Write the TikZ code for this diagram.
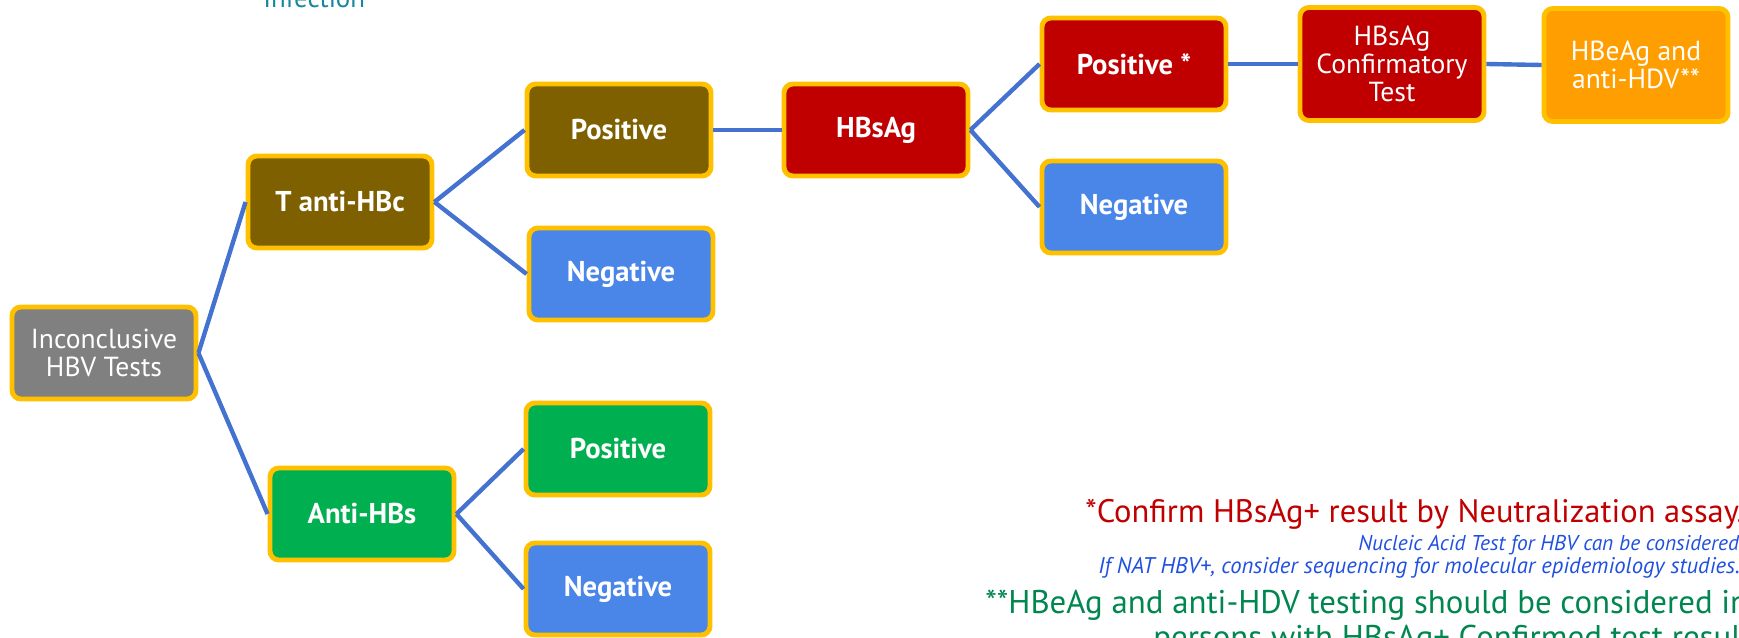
\documentclass[tikz,border=0pt]{standalone}
\usepackage{fontspec}
\setmainfont{PT Sans}
\usetikzlibrary{positioning}
\definecolor{gold}{HTML}{FFC000}
\definecolor{brownbox}{HTML}{7F6000}
\definecolor{bluebox}{HTML}{4A86E8}
\definecolor{redbox}{HTML}{C00000}
\definecolor{greenbox}{HTML}{00B050}
\definecolor{greybox}{HTML}{808080}
\definecolor{orangebox}{HTML}{FF9E00}
\definecolor{linkblue}{HTML}{4472D0}
\definecolor{noteblue}{HTML}{2050E0}
\definecolor{notegreen}{HTML}{00864E}
\definecolor{teal}{HTML}{17869E}

\begin{document}
\begin{tikzpicture}[
  x=0.02cm, y=-0.02cm,
  box/.style={draw=gold, line width=2.8pt, rounded corners=5pt, text=white,
    minimum width=3.68cm, minimum height=1.84cm, align=center,
    font=\fontsize{15.7}{16}\selectfont},
  bbox/.style={box, font=\fontsize{16.3}{16}\selectfont\bfseries},
  tall/.style={minimum height=2.26cm},
  link/.style={draw=linkblue, line width=2.5pt},
  note/.style={anchor=base west, inner sep=0pt}]
\clip (0,0) rectangle (1739,638);

\node[note, text=teal, font=\fontsize{15.3}{16}\selectfont] (infection) at (263,8) {Infection};

\node[box, fill=greybox] (inconclusive) at (104,353) {Inconclusive\\HBV Tests};
\node[bbox, fill=brownbox] (antiHBc) at (340,202) {T anti-HBc};
\node[bbox, fill=brownbox] (HBcPos) at (619,130) {Positive};
\node[bbox, fill=bluebox] (HBcNeg) at (621,274) {Negative};
\node[bbox, fill=redbox] (HBsAg) at (876,130) {HBsAg};
\node[bbox, fill=redbox] (HBsAgPos) at (1134,64) {Positive *};
\node[bbox, fill=bluebox] (HBsAgNeg) at (1134,207) {Negative};
\node[box, tall, fill=redbox] (confirm) at (1392,64) {HBsAg\\Confirmatory\\Test};
\node[box, tall, fill=orangebox] (HBeAg) at (1636,65) {HBeAg and\\anti-HDV**};
\node[bbox, fill=greenbox] (antiHBs) at (362,514) {Anti-HBs};
\node[bbox, fill=greenbox] (HBsPos) at (618,449) {Positive};
\node[bbox, fill=bluebox] (HBsNeg) at (618,589) {Negative};

\draw[link] (inconclusive.east) -- (antiHBc.west);
\draw[link] (inconclusive.east) -- (antiHBs.west);
\draw[link] (antiHBc.east) -- (HBcPos.west);
\draw[link] (antiHBc.east) -- (HBcNeg.west);
\draw[link] (HBcPos.east) -- (HBsAg.west);
\draw[link] (HBsAg.east) -- (HBsAgPos.west);
\draw[link] (HBsAg.east) -- (HBsAgNeg.west);
\draw[link] (HBsAgPos.east) -- (confirm.west);
\draw[link] (confirm.east) -- (HBeAg.west);
\draw[link] (antiHBs.east) -- (HBsPos.west);
\draw[link] (antiHBs.east) -- (HBsNeg.west);

% footnotes
\node[note, text=redbox, font=\fontsize{18.5}{20}\selectfont] (noteA) at (1085,523) {*Confirm HBsAg+ result by Neutralization assay.};
\node[note, text=noteblue, font=\fontsize{12.2}{13}\selectfont\itshape] (noteB) at (1358,551) {Nucleic Acid Test for HBV can be considered.};
\node[note, text=noteblue, font=\fontsize{12.9}{13}\selectfont\itshape] (noteC) at (1098,574) {If NAT HBV+, consider sequencing for molecular epidemiology studies.};
\node[note, text=notegreen, font=\fontsize{18.7}{20}\selectfont] (noteD) at (985,614) {**HBeAg and anti-HDV testing should be considered in};
\node[note, text=notegreen, font=\fontsize{18.7}{20}\selectfont] (noteE) at (1153,648) {persons with HBsAg+ Confirmed test results};
\end{tikzpicture}
\end{document}
